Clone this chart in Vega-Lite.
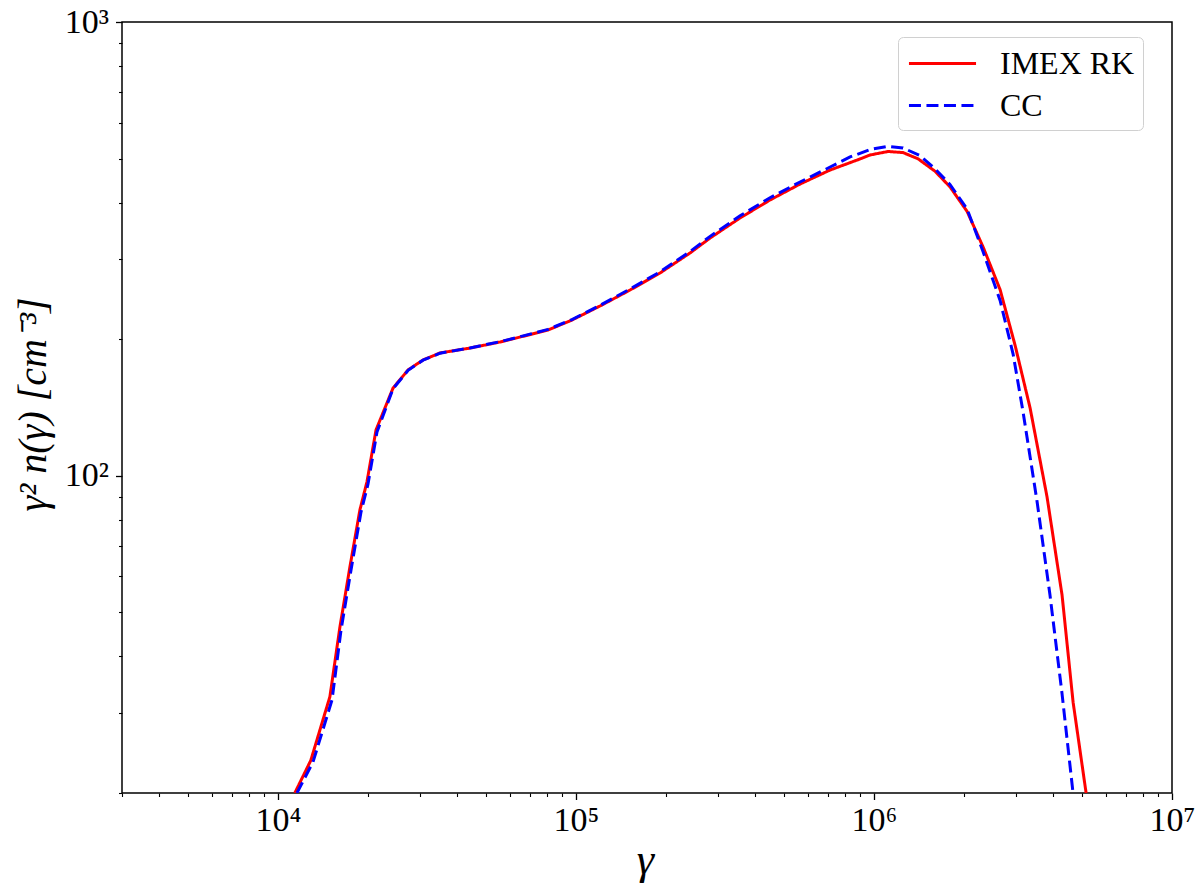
{
  "$schema": "https://vega.github.io/schema/vega-lite/v6.json",
  "width": 1050,
  "height": 771,
  "autosize": {"type": "none"},
  "padding": {"left": 122, "top": 22, "right": 28, "bottom": 102},
  "background": "white",
  "datasets": {
    "imex": [
      {"g": 11400, "v": 20.0, "s": "IMEX RK"},
      {"g": 12900, "v": 23.6, "s": "IMEX RK"},
      {"g": 14950, "v": 32.6, "s": "IMEX RK"},
      {"g": 16150, "v": 46.4, "s": "IMEX RK"},
      {"g": 17450, "v": 63.0, "s": "IMEX RK"},
      {"g": 18850, "v": 84.1, "s": "IMEX RK"},
      {"g": 19900, "v": 96.9, "s": "IMEX RK"},
      {"g": 21350, "v": 126.2, "s": "IMEX RK"},
      {"g": 24350, "v": 156.1, "s": "IMEX RK"},
      {"g": 27350, "v": 171.1, "s": "IMEX RK"},
      {"g": 30700, "v": 180.0, "s": "IMEX RK"},
      {"g": 35000, "v": 186.5, "s": "IMEX RK"},
      {"g": 44100, "v": 191.2, "s": "IMEX RK"},
      {"g": 55700, "v": 197.2, "s": "IMEX RK"},
      {"g": 65000, "v": 202.2, "s": "IMEX RK"},
      {"g": 80700, "v": 209.6, "s": "IMEX RK"},
      {"g": 97000, "v": 220.4, "s": "IMEX RK"},
      {"g": 120500, "v": 236.7, "s": "IMEX RK"},
      {"g": 152000, "v": 256.7, "s": "IMEX RK"},
      {"g": 191600, "v": 279.9, "s": "IMEX RK"},
      {"g": 241500, "v": 309.7, "s": "IMEX RK"},
      {"g": 282000, "v": 334.2, "s": "IMEX RK"},
      {"g": 355500, "v": 370.0, "s": "IMEX RK"},
      {"g": 448000, "v": 405.3, "s": "IMEX RK"},
      {"g": 565000, "v": 439.5, "s": "IMEX RK"},
      {"g": 713000, "v": 471.9, "s": "IMEX RK"},
      {"g": 898000, "v": 499.1, "s": "IMEX RK"},
      {"g": 971000, "v": 509.3, "s": "IMEX RK"},
      {"g": 1115000, "v": 518.4, "s": "IMEX RK"},
      {"g": 1252000, "v": 515.5, "s": "IMEX RK"},
      {"g": 1406000, "v": 499.5, "s": "IMEX RK"},
      {"g": 1604000, "v": 468.8, "s": "IMEX RK"},
      {"g": 1801000, "v": 432.9, "s": "IMEX RK"},
      {"g": 2054000, "v": 382.4, "s": "IMEX RK"},
      {"g": 2324000, "v": 319.3, "s": "IMEX RK"},
      {"g": 2650000, "v": 257.2, "s": "IMEX RK"},
      {"g": 2976000, "v": 193.8, "s": "IMEX RK"},
      {"g": 3341000, "v": 141.1, "s": "IMEX RK"},
      {"g": 3809000, "v": 89.8, "s": "IMEX RK"},
      {"g": 4277000, "v": 54.6, "s": "IMEX RK"},
      {"g": 4658000, "v": 31.7, "s": "IMEX RK"},
      {"g": 5150000, "v": 20.0, "s": "IMEX RK"}
    ],
    "cc": [
      {"g": 11590, "v": 20.0, "s": "CC"},
      {"g": 13120, "v": 23.4, "s": "CC"},
      {"g": 15200, "v": 32.1, "s": "CC"},
      {"g": 16290, "v": 45.7, "s": "CC"},
      {"g": 17600, "v": 62.0, "s": "CC"},
      {"g": 19010, "v": 83.2, "s": "CC"},
      {"g": 20070, "v": 95.9, "s": "CC"},
      {"g": 21510, "v": 124.9, "s": "CC"},
      {"g": 24350, "v": 155.5, "s": "CC"},
      {"g": 27350, "v": 170.8, "s": "CC"},
      {"g": 30700, "v": 179.8, "s": "CC"},
      {"g": 35000, "v": 186.3, "s": "CC"},
      {"g": 44100, "v": 191.3, "s": "CC"},
      {"g": 55700, "v": 197.5, "s": "CC"},
      {"g": 65000, "v": 202.6, "s": "CC"},
      {"g": 80700, "v": 210.2, "s": "CC"},
      {"g": 97000, "v": 221.0, "s": "CC"},
      {"g": 120500, "v": 237.5, "s": "CC"},
      {"g": 152000, "v": 258.0, "s": "CC"},
      {"g": 191600, "v": 281.5, "s": "CC"},
      {"g": 241500, "v": 312.0, "s": "CC"},
      {"g": 282000, "v": 337.0, "s": "CC"},
      {"g": 355500, "v": 374.0, "s": "CC"},
      {"g": 448000, "v": 410.0, "s": "CC"},
      {"g": 565000, "v": 444.0, "s": "CC"},
      {"g": 713000, "v": 479.1, "s": "CC"},
      {"g": 831800, "v": 504.2, "s": "CC"},
      {"g": 971000, "v": 523.6, "s": "CC"},
      {"g": 1115000, "v": 532.2, "s": "CC"},
      {"g": 1252000, "v": 527.7, "s": "CC"},
      {"g": 1428000, "v": 507.6, "s": "CC"},
      {"g": 1604000, "v": 474.4, "s": "CC"},
      {"g": 1801000, "v": 438.2, "s": "CC"},
      {"g": 2054000, "v": 387.1, "s": "CC"},
      {"g": 2324000, "v": 311.7, "s": "CC"},
      {"g": 2650000, "v": 243.4, "s": "CC"},
      {"g": 2930000, "v": 185.5, "s": "CC"},
      {"g": 3165000, "v": 138.2, "s": "CC"},
      {"g": 3524000, "v": 88.0, "s": "CC"},
      {"g": 3896000, "v": 54.6, "s": "CC"},
      {"g": 4274000, "v": 33.2, "s": "CC"},
      {"g": 4656000, "v": 20.0, "s": "CC"}
    ]
  },
  "layer": [
    {
      "data": {"name": "imex"},
      "mark": {"type": "line", "strokeWidth": 3, "clip": true},
      "encoding": {
        "x": {
          "field": "g", "type": "quantitative",
          "scale": {"type": "log", "domain": [3000, 10000000], "nice": false},
          "axis": {
            "orient": "bottom",
            "values": [10000, 100000, 1000000, 10000000],
            "labelExpr": "datum.value == 10000 ? '10⁴' : datum.value == 100000 ? '10⁵' : datum.value == 1000000 ? '10⁶' : '10⁷'",
            "tickSize": 6.5, "tickWidth": 1.3, "tickColor": "black",
            "domain": false, "grid": false,
            "labelFont": "Liberation Serif", "labelFontSize": 34, "labelColor": "black",
            "labelPadding": 4, "labelBaseline": "top", "labelFlush": false, "labelOverlap": false,
            "title": "γ", "titleFont": "Liberation Serif", "titleFontSize": 44,
            "titleFontStyle": "italic", "titleFontWeight": "normal", "titleColor": "black",
            "titleX": 523, "titleY": 80, "titleBaseline": "alphabetic", "titleAlign": "center"
          }
        },
        "y": {
          "field": "v", "type": "quantitative",
          "scale": {"type": "log", "domain": [20, 1000], "nice": false},
          "axis": {
            "orient": "left",
            "values": [100, 1000],
            "labelExpr": "datum.value == 100 ? '10²' : '10³'",
            "tickSize": 6.5, "tickWidth": 1.3, "tickColor": "black",
            "domain": false, "grid": false,
            "labelFont": "Liberation Serif", "labelFontSize": 34, "labelColor": "black",
            "labelPadding": 7, "labelAlign": "right", "labelBaseline": "middle", "labelFlush": false, "labelOverlap": false,
            "title": "γ² n(γ)  [cm⁻³]", "titleFont": "Liberation Serif", "titleFontSize": 40,
            "titleFontStyle": "italic", "titleFontWeight": "normal", "titleColor": "black",
            "titleX": -77, "titleY": 382, "titleAngle": -90, "titleBaseline": "alphabetic", "titleAlign": "center"
          }
        },
        "color": {
          "field": "s", "type": "nominal",
          "scale": {"domain": ["IMEX RK", "CC"], "range": ["#ff0000", "#0000ff"]},
          "legend": {"title": null, "orient": "none", "legendX": 776, "legendY": 15, "labelExpr": "datum.label + '\u00a0\u2009'"}
        },
        "strokeDash": {
          "field": "s", "type": "nominal",
          "scale": {"domain": ["IMEX RK", "CC"], "range": [[1, 0], [12, 5.5]]},
          "legend": {"title": null, "orient": "none", "legendX": 776, "legendY": 15, "labelExpr": "datum.label + '\u00a0\u2009'"}
        }
      }
    },
    {
      "data": {"name": "cc"},
      "mark": {"type": "line", "strokeWidth": 3, "clip": true},
      "encoding": {
        "x": {
          "field": "g", "type": "quantitative",
          "scale": {"type": "log", "domain": [3000, 10000000], "nice": false},
          "axis": {
            "orient": "bottom",
            "values": [3000, 4000, 5000, 6000, 7000, 8000, 9000, 20000, 30000, 40000, 50000, 60000, 70000, 80000, 90000, 200000, 300000, 400000, 500000, 600000, 700000, 800000, 900000, 2000000, 3000000, 4000000, 5000000, 6000000, 7000000, 8000000, 9000000],
            "labels": false, "title": null,
            "tickSize": 3.5, "tickWidth": 1.1, "tickColor": "black",
            "domain": false, "grid": false
          }
        },
        "y": {
          "field": "v", "type": "quantitative",
          "scale": {"type": "log", "domain": [20, 1000], "nice": false},
          "axis": {
            "orient": "left",
            "values": [20, 30, 40, 50, 60, 70, 80, 90, 200, 300, 400, 500, 600, 700, 800, 900],
            "labels": false, "title": null,
            "tickSize": 3.5, "tickWidth": 1.1, "tickColor": "black",
            "domain": false, "grid": false
          }
        },
        "color": {
          "field": "s", "type": "nominal",
          "scale": {"domain": ["IMEX RK", "CC"], "range": ["#ff0000", "#0000ff"]},
          "legend": {"title": null, "orient": "none", "legendX": 776, "legendY": 15, "labelExpr": "datum.label + '\u00a0\u2009'"}
        },
        "strokeDash": {
          "field": "s", "type": "nominal",
          "scale": {"domain": ["IMEX RK", "CC"], "range": [[1, 0], [12, 5.5]]},
          "legend": {"title": null, "orient": "none", "legendX": 776, "legendY": 15, "labelExpr": "datum.label + '\u00a0\u2009'"}
        }
      }
    }
  ],
  "resolve": {"axis": {"x": "independent", "y": "independent"}},
  "config": {
    "view": {"stroke": "black", "strokeWidth": 1.5},
    "legend": {
      "symbolType": "M-2,0H2",
      "symbolSize": 1125,
      "symbolStrokeWidth": 3,
      "symbolOffset": 18,
      "labelFont": "Liberation Serif",
      "labelFontSize": 32,
      "labelColor": "black",
      "labelOffset": 39,
      "padding": 8,
      "rowPadding": 7,
      "strokeColor": "#d0d0d0",
      "fillColor": "white",
      "cornerRadius": 5,
      "labelLimit": 400
    }
  }
}
